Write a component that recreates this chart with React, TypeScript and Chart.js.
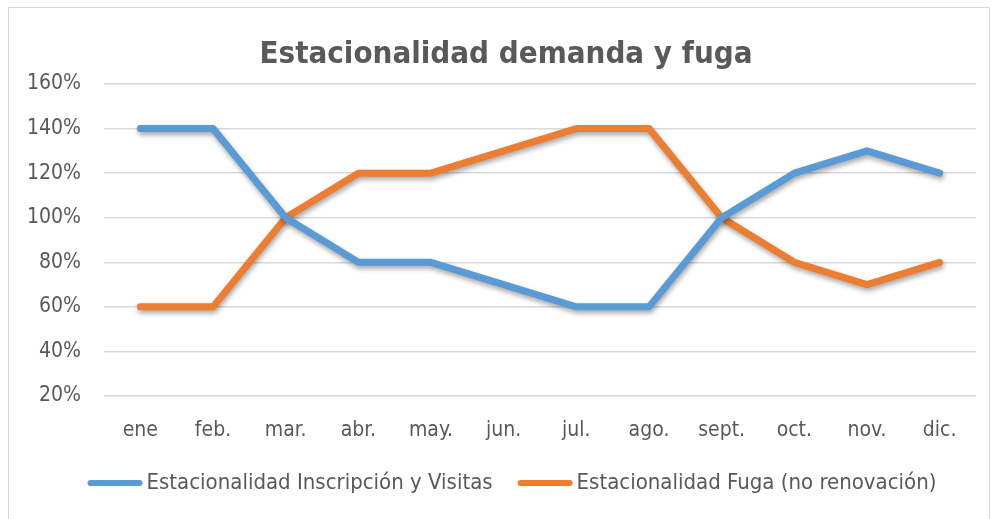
import React, { useEffect, useRef } from "react";
import { Chart, registerables } from "chart.js";

Chart.register(...registerables);

const chartTitle = "Estacionalidad demanda y fuga";
const months = ["ene", "feb.", "mar.", "abr.", "may.", "jun.", "jul.", "ago.", "sept.", "oct.", "nov.", "dic."];
const inscripcionVisitas = [140, 140, 100, 80, 80, 70, 60, 60, 100, 120, 130, 120];
const fugaNoRenovacion = [60, 60, 100, 120, 120, 130, 140, 140, 100, 80, 70, 80];
const yTicks = [20, 40, 60, 80, 100, 120, 140, 160];

const FONT = "'Liberation Sans Narrow', 'DejaVu Sans Condensed', 'Open Sans', sans-serif";
const TEXT = "#595959";

const shadowPlugin = {
  id: "lineShadow",
  beforeDatasetDraw(chart: any) {
    const ctx = chart.ctx;
    ctx.save();
    ctx.shadowColor = "rgba(0,0,0,0.35)";
    ctx.shadowBlur = 5;
    ctx.shadowOffsetX = 1;
    ctx.shadowOffsetY = 3;
  },
  afterDatasetDraw(chart: any) {
    chart.ctx.restore();
  },
};

const titlePlugin = {
  id: "excelTitle",
  afterDraw(chart: any) {
    const ctx = chart.ctx;
    ctx.save();
    ctx.font = `bold 31px ${FONT}`;
    ctx.fillStyle = TEXT;
    ctx.textAlign = "center";
    ctx.textBaseline = "middle";
    ctx.fillText(chartTitle, 506, 55);
    ctx.restore();
  },
};

const legendPlugin = {
  id: "excelLegend",
  afterDraw(chart: any) {
    const ctx = chart.ctx;
    const sample = 55;
    const gapText = 4;
    const gapItem = 25;
    const cy = 483;
    ctx.save();
    ctx.font = `22px ${FONT}`;
    const items = chart.data.datasets.map((d: any) => ({
      label: d.label,
      color: d.borderColor,
      w: ctx.measureText(d.label).width,
    }));
    const total =
      items.reduce((s: number, it: any) => s + sample + gapText + it.w, 0) + gapItem * (items.length - 1);
    let x = 512 - total / 2;
    for (const it of items) {
      ctx.strokeStyle = it.color;
      ctx.lineWidth = 6;
      ctx.lineCap = "round";
      ctx.beginPath();
      ctx.moveTo(x + 3, cy);
      ctx.lineTo(x + sample - 3, cy);
      ctx.stroke();
      ctx.fillStyle = TEXT;
      ctx.textAlign = "left";
      ctx.textBaseline = "middle";
      ctx.fillText(it.label, x + sample + gapText, cy);
      x += sample + gapText + it.w + gapItem;
    }
    ctx.restore();
  },
};

export default function App() {
  const ref = useRef<HTMLCanvasElement>(null);
  useEffect(() => {
    if (!ref.current) return;
    const chart = new Chart(ref.current, {
      type: "line",
      data: {
        labels: months,
        datasets: [
          {
            label: "Estacionalidad Inscripción y Visitas",
            data: inscripcionVisitas,
            borderColor: "#5B9BD5",
            backgroundColor: "#5B9BD5",
            borderWidth: 7,
            borderCapStyle: "round",
            borderJoinStyle: "round",
            pointRadius: 0,
            tension: 0,
          },
          {
            label: "Estacionalidad Fuga (no renovación)",
            data: fugaNoRenovacion,
            borderColor: "#ED7D31",
            backgroundColor: "#ED7D31",
            borderWidth: 7,
            borderCapStyle: "round",
            borderJoinStyle: "round",
            pointRadius: 0,
            tension: 0,
          },
        ],
      },
      options: {
        animation: false,
        responsive: false,
        maintainAspectRatio: false,
        layout: { padding: { left: 0, right: 16, top: 84, bottom: 70 } },
        plugins: {
          title: { display: false },
          legend: { display: false },
          tooltip: { enabled: false },
        },
        scales: {
          x: {
            offset: true,
            afterFit(scale: any) {
              scale.height = 53;
            },
            grid: { display: false, drawTicks: false },
            border: { display: false },
            ticks: { color: TEXT, font: { family: FONT, size: 21 }, padding: 22, maxRotation: 0 },
          },
          y: {
            min: 20,
            max: 160,
            afterFit(scale: any) {
              scale.width = 104;
            },
            afterBuildTicks(scale: any) {
              scale.ticks = yTicks.map((v) => ({ value: v }));
            },
            grid: { color: "#d9d9d9", lineWidth: 1.5, drawTicks: false },
            border: { display: false },
            ticks: {
              color: TEXT,
              font: { family: FONT, size: 21 },
              padding: 23,
              callback: (v: any) => `${v}%`,
            },
          },
        },
      },
      plugins: [shadowPlugin, titlePlugin, legendPlugin],
    } as any);
    return () => chart.destroy();
  }, []);
  return (
    <div style={{ position: "fixed", left: 0, top: 0, width: 992, height: 519, background: "#fff" }}>
      <canvas ref={ref} width={992} height={519} style={{ position: "absolute", left: 0, top: 0 }} />
      <div
        style={{
          position: "absolute",
          left: 8,
          top: 7,
          width: 980,
          height: 530,
          border: "1.5px solid #d9d9d9",
          pointerEvents: "none",
        }}
      />
    </div>
  );
}
